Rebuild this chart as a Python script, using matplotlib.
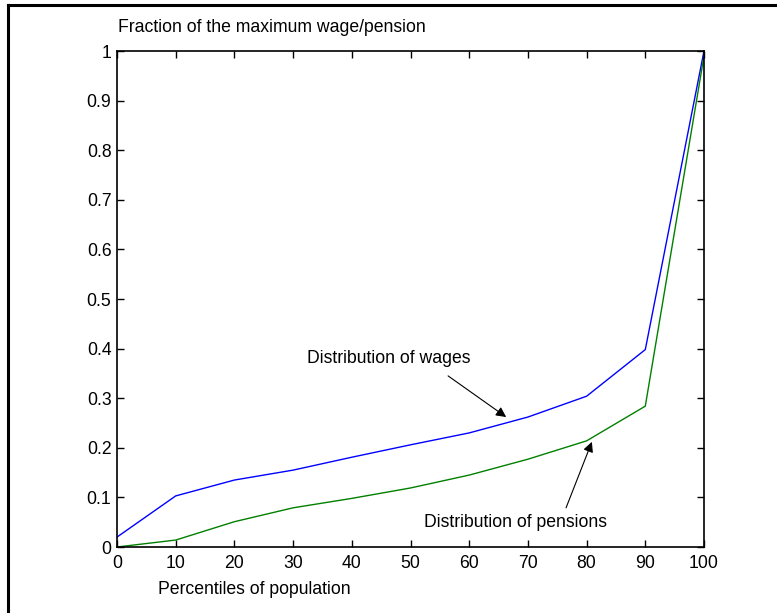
import numpy as np
import matplotlib.pyplot as plt
from matplotlib.lines import Line2D

plt.rcParams['font.family'] = ['Liberation Sans', 'DejaVu Sans']

# percentiles of population
percentiles = [0, 10, 20, 30, 40, 50, 60, 70, 80, 90, 100]
# fraction of the maximum wage / pension
wages = [0.02, 0.103, 0.135, 0.155, 0.181, 0.206, 0.23, 0.262, 0.304, 0.398, 1.0]
pensions = [0.0, 0.014, 0.051, 0.079, 0.098, 0.119, 0.145, 0.177, 0.214, 0.284, 0.99]

xticks = [0, 10, 20, 30, 40, 50, 60, 70, 80, 90, 100]
yticks = [0, 0.1, 0.2, 0.3, 0.4, 0.5, 0.6, 0.7, 0.8, 0.9, 1]
ytick_labels = ['0', '0.1', '0.2', '0.3', '0.4', '0.5', '0.6', '0.7', '0.8', '0.9', '1']

FS = 12.7
W, H = 777, 613
fig = plt.figure(figsize=(W / 100, H / 100), dpi=100)
# axes box in pixels: x 117..704, y 51..547
ax = fig.add_axes([117 / W, 1 - 547 / H, (704 - 117) / W, (547 - 51) / H])

ax.plot(percentiles, wages, color='#0000ff', linewidth=1)
ax.plot(percentiles, pensions, color='#008000', linewidth=1)

ax.set_xlim(0, 100)
ax.set_ylim(0, 1)
ax.set_xticks(xticks)
ax.set_yticks(yticks)
ax.set_yticklabels(ytick_labels)
ax.tick_params(direction='in', length=5, width=1, top=True, right=True,
               labelsize=FS)
ax.tick_params(axis='x', pad=6)
ax.tick_params(axis='y', pad=4)
for s in ax.spines.values():
    s.set_linewidth(1.2)

# annotations
arrow = dict(arrowstyle='-|>', color='black', lw=0.8, mutation_scale=15,
             shrinkA=0, shrinkB=0)
ax.text(46.3, 0.381, 'Distribution of wages', fontsize=FS, ha='center', va='center')
ax.annotate('', xy=(66.3, 0.262), xytext=(56.4, 0.345), arrowprops=arrow)
ax.text(67.9, 0.050, 'Distribution of pensions', fontsize=FS, ha='center', va='center')
ax.annotate('', xy=(80.9, 0.212), xytext=(76.5, 0.079), arrowprops=arrow)

# labels placed like the original
fig.text(118 / W, 1 - 27 / H, 'Fraction of the maximum wage/pension',
         fontsize=FS, ha='left', va='center')
fig.text(158 / W, 1 - 590 / H, 'Percentiles of population',
         fontsize=FS, ha='left', va='center')

# outer frame (top and left edges)
fig.add_artist(Line2D([8 / W, 8 / W], [0, 1 - 5 / H], color='black', linewidth=2.2,
                      transform=fig.transFigure))
fig.add_artist(Line2D([8 / W, 1], [1 - 5 / H, 1 - 5 / H], color='black', linewidth=2.2,
                      transform=fig.transFigure))

fig.savefig('out.png', dpi=100)
